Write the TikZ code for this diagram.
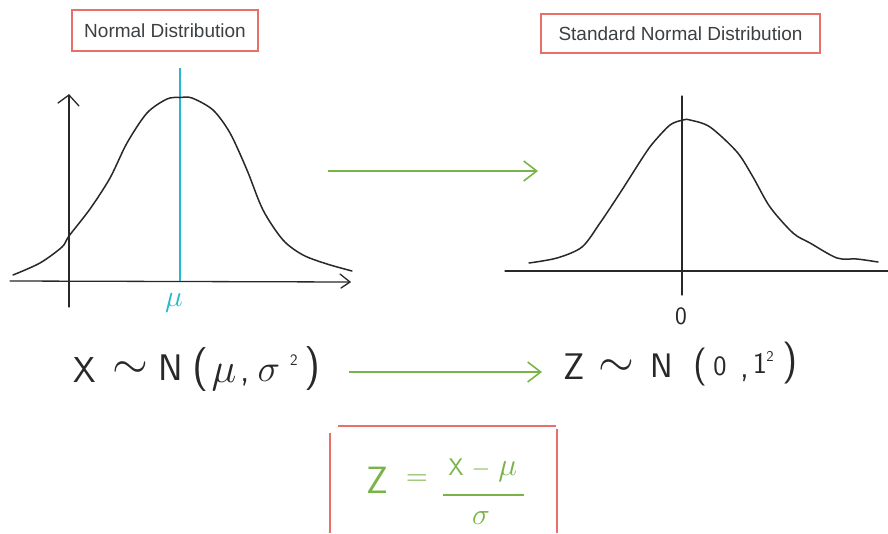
\documentclass[tikz,border=0pt]{standalone}
\usepackage{fix-cm}
\usepackage{fontspec}
\newfontfamily\titlefont{Liberation Sans}
\usetikzlibrary{arrows.meta}
\definecolor{boxred}{RGB}{232,112,106}
\definecolor{arrowgreen}{RGB}{122,180,72}
\definecolor{mucyan}{RGB}{38,184,204}
\definecolor{ink}{RGB}{40,40,40}
\definecolor{titletext}{RGB}{60,64,67}
\tikzset{
  titlebox/.style={draw=boxred, line width=1.5pt, text=titletext,
    font=\titlefont\fontsize{19}{22}\selectfont, inner sep=0pt, anchor=center},
  hw/.style={text=ink, inner sep=0pt, anchor=center},
  hwsf/.style={hw, font=\sffamily\fontsize{#1}{#1}\selectfont},
  hwm/.style={hw, font=\fontsize{#1}{#1}\selectfont},
  gform/.style={text=arrowgreen, inner sep=0pt, anchor=center},
  axisline/.style={draw=ink, line width=1.3pt, line cap=round, line join=round},
  bellcurve/.style={draw=ink, line width=1.5pt, line join=round, line cap=round},
  garrow/.style={draw=arrowgreen, line width=1.6pt,
    -{Straight Barb[length=13pt,width=20pt,line width=1.6pt]}},
  redline/.style={draw=boxred, line width=1.5pt},
}
\begin{document}
\begin{tikzpicture}[x=1pt,y=-1pt]
\useasboundingbox[fill=white] (0,0) rectangle (888,533);

% ---------- titles ----------
\node[titlebox, minimum width=186pt, minimum height=41pt] (t1) at (165,30.5) {Normal Distribution};
\node[titlebox, minimum width=279pt, minimum height=39pt] (t2) at (680.5,33.5) {Standard Normal Distribution};

% ---------- left graph ----------
\draw[axisline] (10,281) -- (350,282);
\draw[axisline] (340,274) -- (350,282) -- (341,288);
\draw[axisline] (69,307) -- (69,95);
\draw[axisline] (58,103) -- (69,95) -- (79,106);
\draw[draw=mucyan, line width=2pt] (180,68) -- (180,281);
\draw[bellcurve] plot[smooth, tension=0.5] coordinates {
  (13,275) (40,263) (62,247) (69,236) (90,209) (110,178) (127,143)
  (147,113) (167,99) (180,97.5) (192,98) (213,110) (230,133) (247,170)
  (263,210) (283,240) (303,255) (327,264) (352,271)};
\node[hwm=30, text=mucyan] (mu) at (174,303) {$\mu$};

% ---------- right graph ----------
\draw[axisline] (505,271) -- (888,271);
\draw[axisline] (682,96) -- (682,295);
\draw[bellcurve] plot[smooth, tension=0.5] coordinates {
  (529,263) (557,258) (582,247) (600,223) (620,193) (643,157) (653,143)
  (670,125) (683,120) (690,120) (710,127) (737,152) (753,177) (770,207)
  (793,233) (810,243) (837,258) (857,259) (878,262)};
\node[hwsf=25] (zero) at (681,316) {0};

% ---------- top arrow ----------
\coordinate (ga1) at (328,171);
\coordinate (ga2) at (538,171);
\draw[garrow] (ga1) -- (ga2);

% ---------- X ~ N(mu, sigma^2) ----------
\node[hwsf=36] (lx) at (85,370) {X};
\node[hwm=46] (ltilde) at (130,370) {$\sim$};
\node[hwsf=37] (ln) at (171,368) {N};
\node[hwsf=44] (lpo) at (201,370) {(};
\node[hwm=42] (lmu) at (224,378) {$\mu$};
\node[hwsf=36] (lcomma) at (245,382) {,};
\node[hwm=38] (lsig) at (269,373) {$\sigma$};
\node[hwsf=16] (lsq) at (294,360) {2};
\node[hwsf=44] (lpc) at (313,369) {)};

% ---------- bottom arrow ----------
\coordinate (gb1) at (349,372);
\coordinate (gb2) at (542,372);
\draw[garrow] (gb1) -- (gb2);

% ---------- Z ~ N(0, 1^2) ----------
\node[hwsf=37] (rz) at (574,367) {Z};
\node[hwm=46] (rtilde) at (616,368) {$\sim$};
\node[hwsf=34] (rn) at (662,366) {N};
\node[hwsf=38] (rpo) at (700,367) {(};
\node[hwsf=28] (r0) at (720,366) {0};
\node[hwsf=34] (rcomma) at (745,378) {,};
\node[hwsf=30] (r1) at (760,363) {1};
\node[hwsf=15] (rsq) at (770,356) {2};
\node[hwsf=42] (rpc) at (790,363) {)};

% ---------- formula box ----------
\draw[redline] (338,426) -- (556,426);
\draw[redline] (330,433) -- (330,533);
\draw[redline] (557,429) -- (557,533);
\node[gform, font=\sffamily\fontsize{38}{38}\selectfont] (fz) at (377,480) {Z};
\node[gform, font=\fontsize{30}{30}\selectfont] (feq) at (417,480) {$=$};
\node[gform, font=\fontsize{24}{24}\selectfont] (fnum) at (483,470)
  {\textsf{X}\hspace{8pt}$-$\hspace{8pt}{\fontsize{32}{32}\selectfont$\mu$}};
\draw[draw=arrowgreen, line width=1.6pt] (443,495) -- (524,495);
\node[gform, font=\fontsize{30}{30}\selectfont] (fden) at (481,518) {$\sigma$};
\end{tikzpicture}
\end{document}
